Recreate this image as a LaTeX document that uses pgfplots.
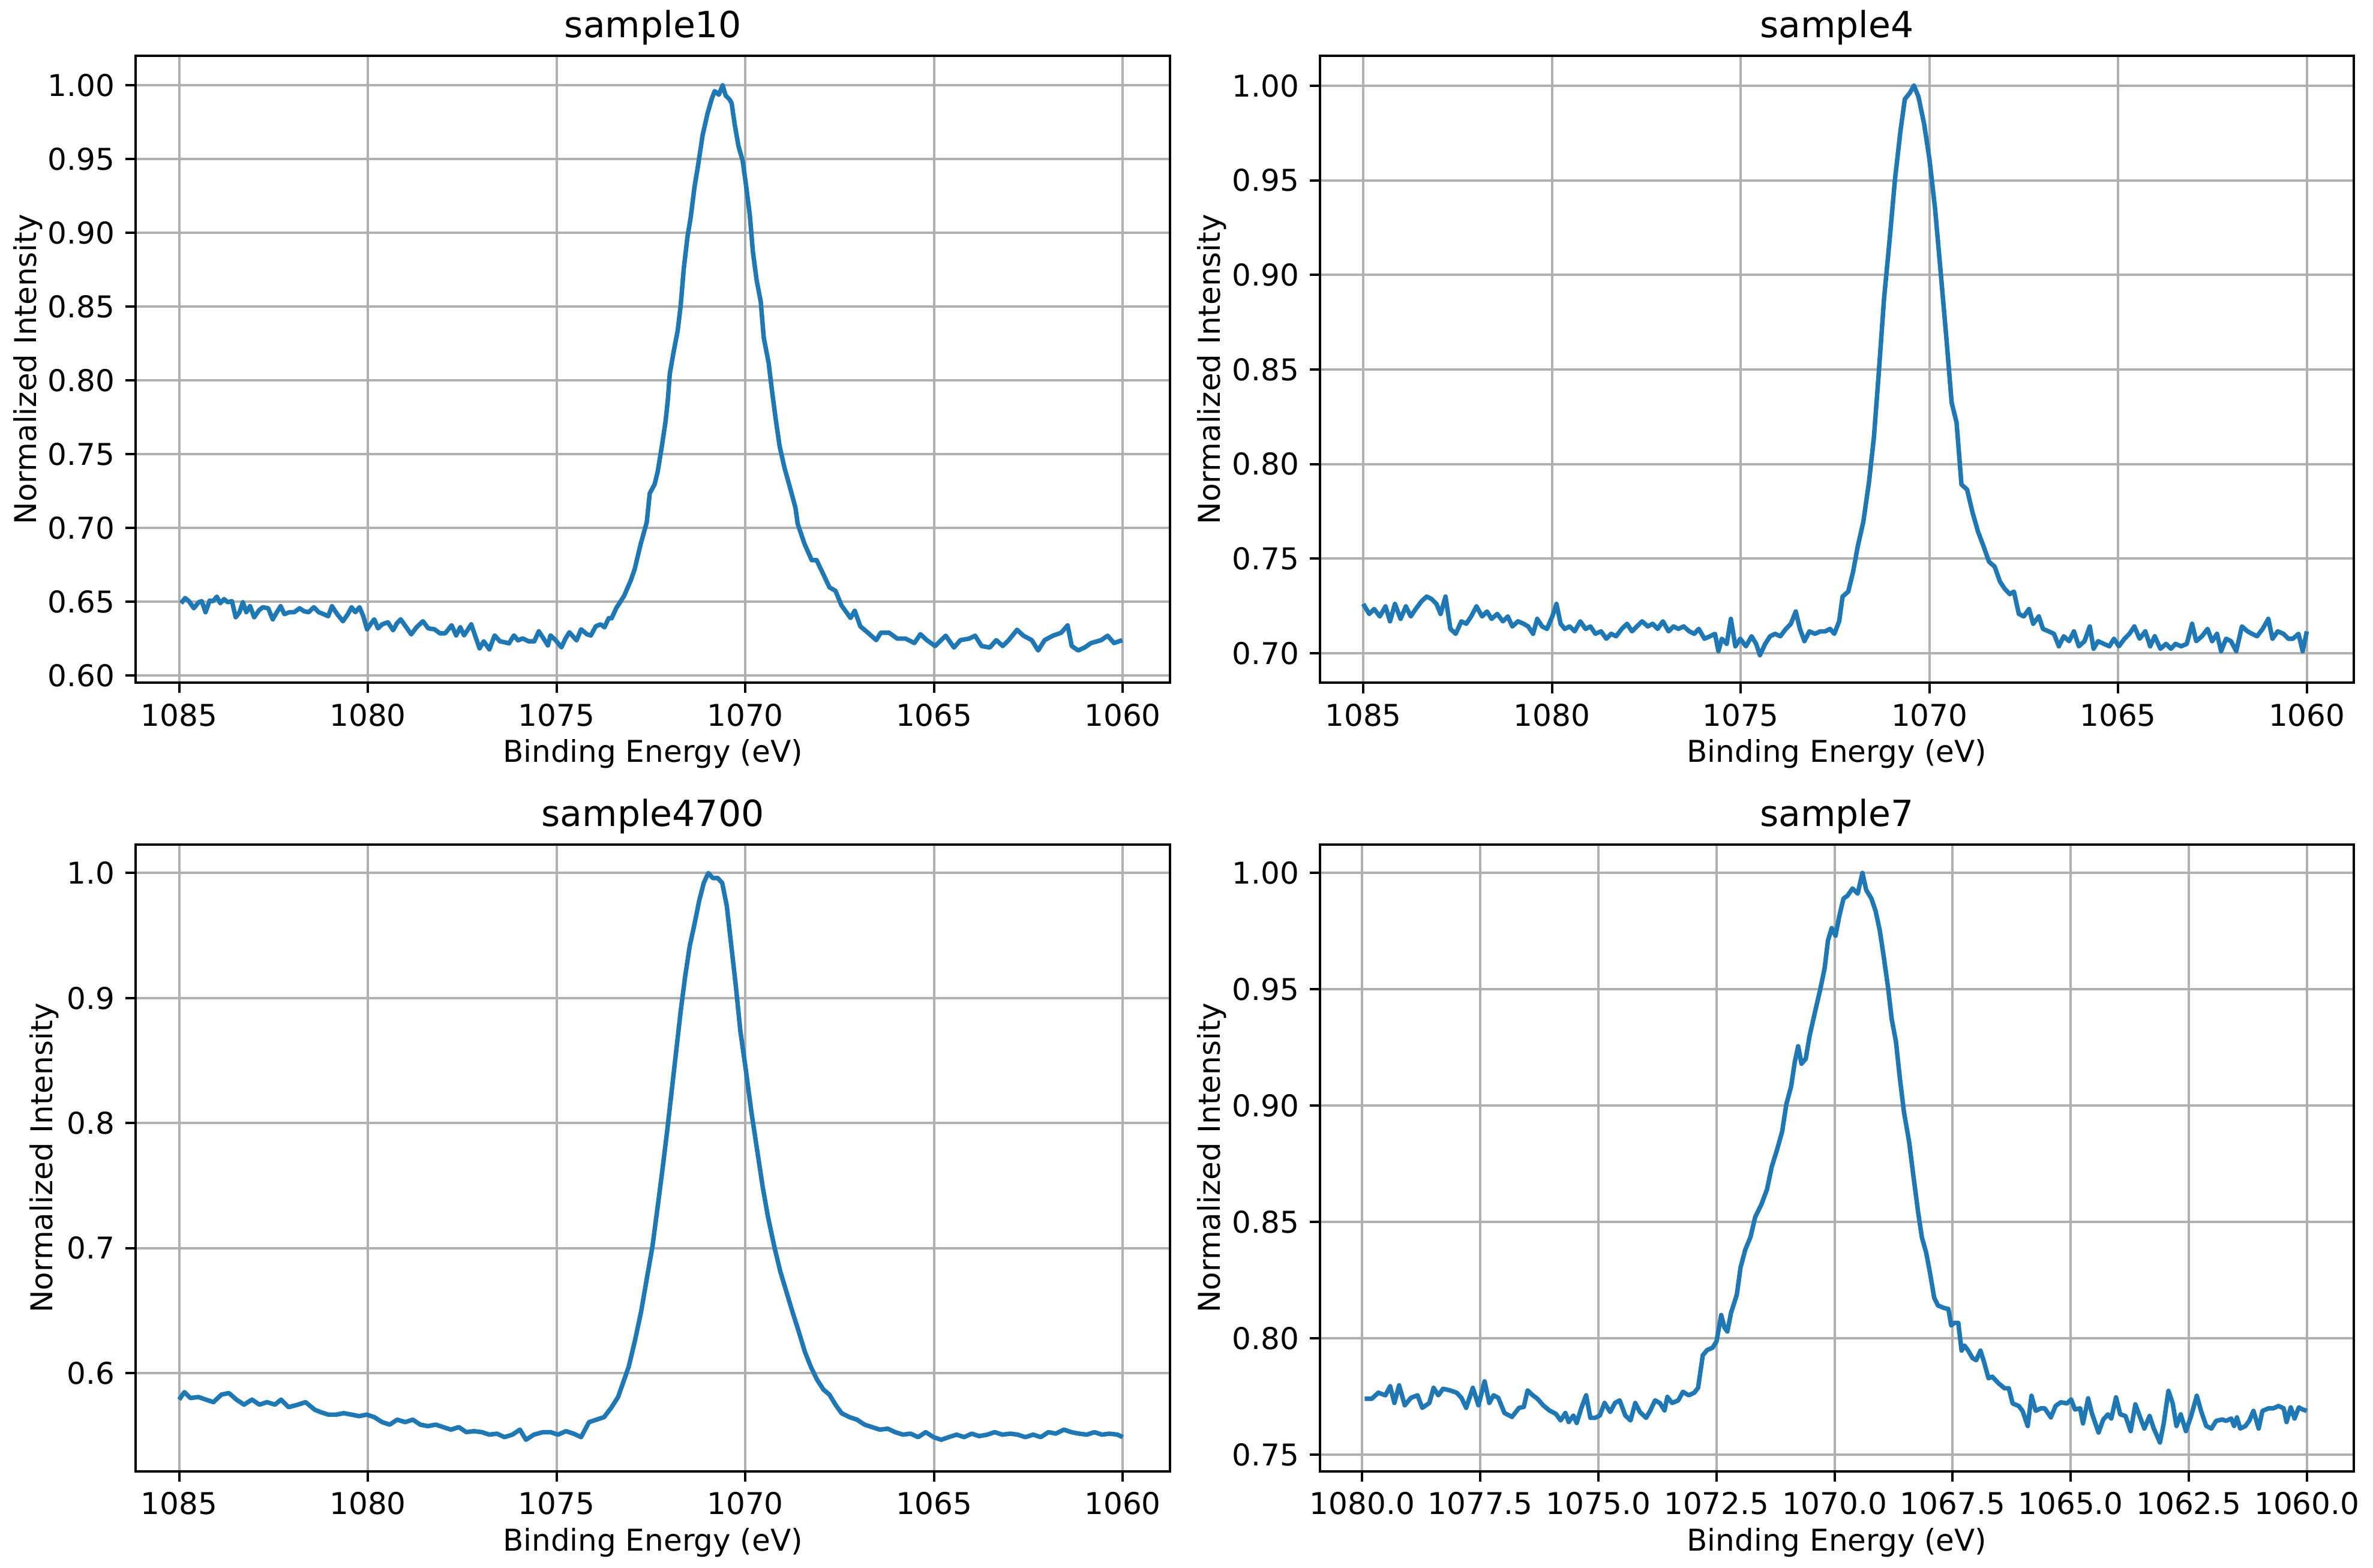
\documentclass[border=0pt]{standalone}
\usepackage{fontspec}
\setmainfont{DejaVu Sans}
\usepackage{pgfplots}
\pgfplotsset{compat=1.18}
\definecolor{mplblue}{HTML}{1F77B4}
\definecolor{gridgray}{HTML}{B0B0B0}
\pgfplotsset{
  mpl/.style={
    width=344.6pt, height=209pt, scale only axis,
    anchor=south west,
    x dir=reverse,
    axis line style={line width=0.8pt, black},
    grid=major, grid style={color=gridgray, line width=0.8pt},
    tick align=outside, tick pos=left,
    major tick length=3.5pt,
    every tick/.style={black, line width=0.8pt},
    minor tick num=0,
    /pgf/number format/assume math mode=true,
    /pgf/number format/1000 sep={},
    scaled ticks=false,
    ticklabel style={font=\fontsize{10}{12}\selectfont},
    label style={font=\fontsize{10}{12}\selectfont},
    every axis title/.style={at={(0.5,1)}, anchor=base, yshift=6pt, font=\fontsize{12}{14}\selectfont},
    xlabel={Binding Energy (eV)}, ylabel={Normalized Intensity},
    xlabel style={at={(axis description cs:0.5,-0.114)}, anchor=center},
    ylabel style={at={(axis description cs:-0.1045,0.5)}, anchor=center},
    cycle list={{mplblue, line width=1.5pt, mark=none, line join=round}},
  },
  curve/.style={mplblue, line width=1.5pt, mark=none, line join=round},
  xint/.style={xmin=1058.755, xmax=1086.145, xtick={1060,1065,1070,1075,1080,1085},
    xticklabel style={/pgf/number format/fixed, /pgf/number format/precision=0}},
  ytwo/.style={yticklabel style={/pgf/number format/fixed, /pgf/number format/fixed zerofill, /pgf/number format/precision=2}},
}
\begin{document}
\begin{tikzpicture}
\useasboundingbox (0,0) rectangle (791pt,522.6pt);
% ---------------- sample10 ----------------
\begin{axis}[mpl, xint, ytwo, at={(45.3pt,295pt)}, title={sample10},
  ymin=0.5952, ymax=1.0200, ytick={0.60,0.65,0.70,0.75,0.80,0.85,0.90,0.95,1.00}]
\addplot[curve] coordinates {
(1084.95,0.6490)(1084.84,0.6525)(1084.74,0.6504)(1084.61,0.6456)(1084.48,0.6497)(1084.40,0.6504)
(1084.30,0.6429)(1084.19,0.6508)(1084.10,0.6504)(1084.00,0.6535)(1083.91,0.6490)(1083.81,0.6518)
(1083.71,0.6497)(1083.60,0.6504)(1083.50,0.6395)(1083.40,0.6429)(1083.31,0.6497)(1083.22,0.6429)
(1083.12,0.6470)(1083.01,0.6395)(1082.88,0.6443)(1082.78,0.6463)(1082.64,0.6456)(1082.52,0.6381)
(1082.41,0.6429)(1082.31,0.6470)(1082.21,0.6416)(1082.08,0.6429)(1081.95,0.6429)(1081.81,0.6456)
(1081.69,0.6436)(1081.57,0.6429)(1081.43,0.6463)(1081.30,0.6429)(1081.17,0.6416)(1081.05,0.6402)
(1080.95,0.6470)(1080.81,0.6416)(1080.66,0.6368)(1080.53,0.6416)(1080.43,0.6463)(1080.33,0.6429)
(1080.22,0.6463)(1080.12,0.6402)(1080.02,0.6313)(1079.93,0.6347)(1079.83,0.6381)(1079.73,0.6320)
(1079.62,0.6347)(1079.47,0.6361)(1079.33,0.6307)(1079.23,0.6354)(1079.13,0.6381)(1079.00,0.6334)
(1078.85,0.6279)(1078.71,0.6327)(1078.54,0.6368)(1078.40,0.6320)(1078.23,0.6313)(1078.09,0.6286)
(1077.95,0.6286)(1077.78,0.6341)(1077.66,0.6272)(1077.55,0.6327)(1077.45,0.6272)(1077.26,0.6347)
(1077.16,0.6272)(1077.04,0.6184)(1076.93,0.6232)(1076.78,0.6177)(1076.64,0.6272)(1076.50,0.6232)
(1076.37,0.6225)(1076.26,0.6218)(1076.13,0.6272)(1076.02,0.6238)(1075.90,0.6252)(1075.74,0.6232)
(1075.59,0.6232)(1075.47,0.6300)(1075.33,0.6245)(1075.23,0.6204)(1075.16,0.6272)(1075.02,0.6238)
(1074.87,0.6191)(1074.76,0.6252)(1074.66,0.6293)(1074.47,0.6238)(1074.35,0.6313)(1074.19,0.6279)
(1074.09,0.6272)(1073.96,0.6334)(1073.83,0.6347)(1073.73,0.6327)(1073.62,0.6388)(1073.54,0.6388)
(1073.42,0.6456)(1073.21,0.6540)(1073.03,0.6647)(1072.93,0.6721)(1072.77,0.6892)(1072.61,0.7039)
(1072.53,0.7235)(1072.40,0.7297)(1072.32,0.7382)(1072.21,0.7554)(1072.11,0.7725)(1072.05,0.7873)
(1072.00,0.8044)(1071.90,0.8191)(1071.79,0.8338)(1071.71,0.8510)(1071.63,0.8755)(1071.53,0.8975)
(1071.45,0.9098)(1071.34,0.9319)(1071.26,0.9441)(1071.13,0.9662)(1071.00,0.9809)(1070.89,0.9907)
(1070.81,0.9961)(1070.70,0.9936)(1070.60,1.0000)(1070.52,0.9931)(1070.41,0.9902)(1070.36,0.9877)
(1070.28,0.9735)(1070.18,0.9588)(1070.07,0.9490)(1069.99,0.9343)(1069.88,0.9123)(1069.80,0.8877)
(1069.70,0.8681)(1069.59,0.8534)(1069.51,0.8289)(1069.38,0.8118)(1069.30,0.7946)(1069.20,0.7750)
(1069.09,0.7554)(1068.96,0.7407)(1068.80,0.7260)(1068.67,0.7137)(1068.61,0.7027)(1068.43,0.6892)
(1068.24,0.6782)(1068.11,0.6782)(1067.95,0.6696)(1067.77,0.6598)(1067.61,0.6574)(1067.45,0.6475)
(1067.21,0.6390)(1067.10,0.6439)(1066.95,0.6333)
(1066.75,0.629)(1066.53,0.624)(1066.41,0.629)(1066.19,0.629)(1065.97,0.625)
(1065.75,0.625)(1065.52,0.622)(1065.36,0.628)(1065.19,0.624)(1064.97,0.620)(1064.69,0.627)
(1064.47,0.619)(1064.30,0.624)(1064.07,0.625)(1063.91,0.627)(1063.74,0.620)(1063.52,0.619)
(1063.35,0.624)(1063.18,0.620)(1063.02,0.624)(1062.80,0.631)(1062.63,0.627)(1062.41,0.624)
(1062.24,0.617)(1062.07,0.624)(1061.85,0.627)(1061.63,0.629)(1061.46,0.634)(1061.35,0.620)
(1061.18,0.617)(1061.01,0.619)(1060.84,0.622)(1060.57,0.624)(1060.40,0.627)(1060.23,0.622)
(1060.01,0.624)
};
\end{axis}
% ---------------- sample4 ----------------
\begin{axis}[mpl, xint, ytwo, at={(440.0pt,295pt)}, title={sample4},
  ymin=0.6845, ymax=1.0158, ytick={0.70,0.75,0.80,0.85,0.90,0.95,1.00}]
\addplot[curve] coordinates {
(1085.00,0.7261)(1084.84,0.7208)(1084.71,0.7234)(1084.56,0.7195)(1084.41,0.7248)(1084.29,0.7169)
(1084.16,0.7261)(1084.01,0.7182)(1083.87,0.7248)(1083.74,0.7195)(1083.61,0.7234)(1083.46,0.7274)
(1083.32,0.7300)(1083.19,0.7287)(1083.06,0.7261)(1082.95,0.7208)(1082.82,0.7300)(1082.69,0.7129)
(1082.55,0.7103)(1082.40,0.7169)(1082.27,0.7156)(1082.14,0.7195)(1082.00,0.7248)(1081.85,0.7195)
(1081.72,0.7221)(1081.60,0.7182)(1081.45,0.7208)(1081.30,0.7169)(1081.17,0.7195)(1081.05,0.7142)
(1080.90,0.7169)(1080.75,0.7156)(1080.63,0.7142)(1080.50,0.7103)(1080.39,0.7182)(1080.26,0.7142)
(1080.13,0.7129)(1079.99,0.7195)(1079.88,0.7261)(1079.77,0.7156)(1079.66,0.7129)(1079.53,0.7142)
(1079.40,0.7116)(1079.25,0.7169)(1079.11,0.7129)(1078.98,0.7142)(1078.85,0.7103)(1078.70,0.7116)
(1078.56,0.7077)(1078.43,0.7103)(1078.30,0.7090)(1078.15,0.7129)(1078.01,0.7156)(1077.88,0.7116)
(1077.75,0.7142)(1077.61,0.7169)(1077.46,0.7142)(1077.33,0.7156)(1077.20,0.7129)(1077.06,0.7169)
(1076.91,0.7116)(1076.78,0.7142)(1076.65,0.7129)(1076.51,0.7142)(1076.36,0.7116)(1076.23,0.7103)
(1076.11,0.7129)(1075.96,0.7077)(1075.81,0.7090)(1075.68,0.7103)(1075.59,0.7011)(1075.50,0.7077)
(1075.37,0.7050)(1075.26,0.7182)(1075.14,0.7037)(1075.01,0.7077)(1074.86,0.7037)(1074.71,0.7090)
(1074.59,0.7050)(1074.49,0.6990)(1074.35,0.7050)(1074.22,0.7090)(1074.09,0.7103)(1073.95,0.7090)
(1073.80,0.7129)(1073.67,0.7156)(1073.54,0.7221)(1073.43,0.7129)(1073.31,0.7064)(1073.18,0.7116)
(1073.03,0.7103)(1072.89,0.7116)(1072.76,0.7116)(1072.63,0.7129)(1072.52,0.7103)(1072.39,0.7169)
(1072.30,0.7300)(1072.15,0.7326)(1072.02,0.7432)(1071.90,0.7563)(1071.75,0.7695)(1071.60,0.7905)
(1071.47,0.8141)(1071.35,0.8457)(1071.20,0.8877)(1071.05,0.9193)(1070.91,0.9508)(1070.76,0.9771)
(1070.65,0.9929)(1070.52,0.9961)(1070.41,1.0000)(1070.29,0.9942)(1070.14,0.9798)(1070.00,0.9614)
(1069.85,0.9351)(1069.71,0.9035)(1069.55,0.8667)(1069.41,0.8325)(1069.28,0.8220)(1069.15,0.7892)
(1069.00,0.7865)(1068.86,0.7747)(1068.71,0.7642)(1068.56,0.7563)(1068.42,0.7484)(1068.27,0.7458)
(1068.13,0.7379)(1068.00,0.7340)(1067.87,0.7313)(1067.76,0.7326)(1067.63,0.7208)(1067.50,0.7195)
(1067.36,0.7234)(1067.25,0.7156)(1067.10,0.7195)(1066.99,0.7129)(1066.84,0.7116)(1066.70,0.7103)
(1066.57,0.7037)(1066.44,0.7090)(1066.30,0.7064)(1066.17,0.7116)(1066.04,0.7037)(1065.89,0.7064)
(1065.75,0.7142)(1065.65,0.7024)(1065.53,0.7064)(1065.38,0.7050)(1065.23,0.7037)(1065.11,0.7077)
(1064.98,0.7037)(1064.83,0.7077)(1064.70,0.7103)(1064.57,0.7142)(1064.43,0.7077)(1064.28,0.7116)
(1064.15,0.7037)(1064.03,0.7090)(1063.88,0.7024)(1063.73,0.7050)(1063.60,0.7024)(1063.48,0.7050)
(1063.33,0.7037)(1063.18,0.7050)(1063.04,0.7156)(1062.93,0.7064)(1062.78,0.7090)(1062.63,0.7129)
(1062.51,0.7064)(1062.38,0.7103)(1062.27,0.7011)(1062.14,0.7077)(1062.01,0.7064)(1061.87,0.7011)
(1061.72,0.7142)(1061.57,0.7116)(1061.45,0.7103)(1061.32,0.7090)(1061.17,0.7129)(1061.02,0.7182)
(1060.91,0.7077)(1060.77,0.7116)(1060.62,0.7103)(1060.49,0.7077)(1060.37,0.7077)(1060.22,0.7103)
(1060.11,0.7011)(1060.00,0.7116)
};
\end{axis}
% ---------------- sample4700 ----------------
\begin{axis}[mpl, xint, at={(45.3pt,32.1pt)}, title={sample4700},
  ymin=0.5215, ymax=1.0230, ytick={0.6,0.7,0.8,0.9,1.0},
  yticklabel style={/pgf/number format/fixed, /pgf/number format/fixed zerofill, /pgf/number format/precision=1},
  ylabel style={at={(axis description cs:-0.0888,0.5)}, anchor=center}]
\addplot[curve] coordinates {
(1085.00,0.5787)(1084.86,0.5847)(1084.70,0.5800)(1084.49,0.5808)(1084.29,0.5787)(1084.09,0.5767)
(1083.88,0.5827)(1083.68,0.5840)(1083.48,0.5787)(1083.28,0.5747)(1083.07,0.5787)(1082.87,0.5747)
(1082.67,0.5767)(1082.46,0.5747)(1082.30,0.5787)(1082.10,0.5727)(1081.85,0.5747)(1081.65,0.5767)
(1081.41,0.5707)(1081.25,0.5687)(1081.04,0.5667)(1080.84,0.5667)(1080.64,0.5679)(1080.43,0.5667)
(1080.23,0.5655)(1080.03,0.5667)(1079.83,0.5647)(1079.62,0.5607)(1079.42,0.5587)(1079.22,0.5627)
(1079.01,0.5607)(1078.81,0.5627)(1078.61,0.5587)(1078.41,0.5575)(1078.20,0.5587)(1078.00,0.5567)
(1077.80,0.5547)(1077.59,0.5567)(1077.39,0.5527)(1077.19,0.5535)(1076.98,0.5527)(1076.78,0.5507)
(1076.58,0.5515)(1076.38,0.5487)(1076.17,0.5507)(1075.97,0.5547)(1075.81,0.5466)(1075.60,0.5507)
(1075.36,0.5527)(1075.16,0.5527)(1074.96,0.5507)(1074.75,0.5535)(1074.55,0.5515)(1074.35,0.5487)
(1074.14,0.5607)(1073.94,0.5627)(1073.74,0.5647)(1073.54,0.5727)(1073.37,0.5808)(1073.23,0.5928)
(1073.09,0.6048)(1072.93,0.6249)(1072.76,0.6490)(1072.60,0.6770)(1072.46,0.7011)(1072.32,0.7332)
(1072.20,0.7613)(1072.07,0.7934)(1071.95,0.8255)(1071.83,0.8576)(1071.71,0.8897)(1071.59,0.9178)
(1071.47,0.9418)(1071.34,0.9599)(1071.22,0.9779)(1071.10,0.9920)(1070.98,1.0000)(1070.86,0.9960)
(1070.73,0.9960)(1070.61,0.9920)(1070.49,0.9739)(1070.37,0.9418)(1070.25,0.9097)(1070.13,0.8736)
(1069.98,0.8415)(1069.84,0.8094)(1069.68,0.7773)(1069.54,0.7493)(1069.40,0.7252)(1069.23,0.7011)
(1069.07,0.6810)(1068.91,0.6650)(1068.75,0.6490)(1068.58,0.6329)(1068.42,0.6169)(1068.26,0.6048)
(1068.10,0.5948)(1067.93,0.5868)(1067.77,0.5827)(1067.61,0.5747)(1067.45,0.5679)(1067.24,0.5647)
(1067.04,0.5627)(1066.84,0.5587)(1066.64,0.5567)(1066.43,0.5547)(1066.23,0.5555)(1066.03,0.5527)
(1065.82,0.5507)(1065.62,0.5515)(1065.42,0.5487)(1065.22,0.5527)(1065.01,0.5487)(1064.81,0.5466)
(1064.61,0.5487)(1064.40,0.5507)(1064.20,0.5487)(1064.00,0.5515)(1063.80,0.5495)(1063.59,0.5507)
(1063.39,0.5527)(1063.19,0.5507)(1062.98,0.5515)(1062.78,0.5507)(1062.58,0.5487)(1062.37,0.5507)
(1062.17,0.5487)(1061.97,0.5527)(1061.77,0.5515)(1061.56,0.5547)(1061.36,0.5527)(1061.16,0.5515)
(1060.95,0.5507)(1060.75,0.5527)(1060.55,0.5507)(1060.35,0.5515)(1060.14,0.5507)(1060.00,0.5487)
};
\end{axis}
% ---------------- sample7 ----------------
\begin{axis}[mpl, ytwo, at={(440.0pt,32.1pt)}, title={sample7},
  xmin=1059.005, xmax=1080.895, xtick={1060,1062.5,1065,1067.5,1070,1072.5,1075,1077.5,1080},
  xticklabel style={/pgf/number format/fixed, /pgf/number format/fixed zerofill, /pgf/number format/precision=1},
  ymin=0.7429, ymax=1.0123, ytick={0.75,0.80,0.85,0.90,0.95,1.00}]
\addplot[curve] coordinates {
(1079.95,0.7740)(1079.80,0.7740)(1079.66,0.7766)(1079.51,0.7755)(1079.41,0.7794)(1079.32,0.7722)
(1079.22,0.7798)(1079.10,0.7712)(1078.97,0.7744)(1078.83,0.7755)(1078.73,0.7701)(1078.58,0.7722)
(1078.49,0.7787)(1078.39,0.7755)(1078.29,0.7783)(1078.14,0.7776)(1078.00,0.7766)(1077.90,0.7744)
(1077.80,0.7701)(1077.66,0.7787)(1077.54,0.7712)(1077.41,0.7815)(1077.31,0.7722)(1077.22,0.7755)
(1077.12,0.7744)(1076.99,0.7679)(1076.83,0.7662)(1076.68,0.7701)(1076.58,0.7705)(1076.50,0.7776)
(1076.39,0.7755)(1076.29,0.7740)(1076.17,0.7712)(1076.04,0.7690)(1075.90,0.7675)(1075.80,0.7647)
(1075.70,0.7679)(1075.63,0.7640)(1075.53,0.7668)(1075.46,0.7636)(1075.36,0.7701)(1075.26,0.7755)
(1075.17,0.7658)(1075.07,0.7658)(1074.97,0.7668)(1074.87,0.7722)(1074.75,0.7683)(1074.65,0.7722)
(1074.55,0.7733)(1074.43,0.7668)(1074.32,0.7647)(1074.22,0.7722)(1074.12,0.7683)(1073.99,0.7658)
(1073.90,0.7690)(1073.80,0.7733)(1073.70,0.7722)(1073.60,0.7690)(1073.54,0.7748)(1073.44,0.7722)
(1073.31,0.7733)(1073.21,0.7770)(1073.09,0.7755)(1072.97,0.7766)(1072.89,0.7787)(1072.79,0.7927)
(1072.70,0.7949)(1072.58,0.7960)(1072.50,0.7986)(1072.40,0.8100)(1072.33,0.8046)(1072.27,0.8029)
(1072.19,0.8111)(1072.07,0.8187)(1071.99,0.8305)(1071.89,0.8381)(1071.78,0.8435)(1071.68,0.8521)
(1071.55,0.8575)(1071.43,0.8640)(1071.33,0.8737)(1071.23,0.8802)(1071.11,0.8888)(1071.02,0.9007)
(1070.92,0.9082)(1070.84,0.9190)(1070.77,0.9255)(1070.70,0.9180)(1070.61,0.9201)(1070.53,0.9298)
(1070.41,0.9406)(1070.31,0.9493)(1070.21,0.9590)(1070.14,0.9709)(1070.06,0.9763)(1069.98,0.9730)
(1069.90,0.9814)(1069.81,0.9890)(1069.73,0.9901)(1069.62,0.9933)(1069.51,0.9911)(1069.41,1.0000)
(1069.33,0.9927)(1069.22,0.9890)(1069.13,0.9836)(1069.04,0.9750)(1068.96,0.9642)(1068.87,0.9512)
(1068.79,0.9372)(1068.70,0.9275)(1068.62,0.9123)(1068.53,0.8972)(1068.42,0.8843)(1068.34,0.8713)
(1068.23,0.8541)(1068.15,0.8433)(1068.06,0.8368)(1067.98,0.8282)(1067.89,0.8174)(1067.81,0.8141)
(1067.68,0.8130)(1067.59,0.8126)(1067.53,0.8055)(1067.47,0.8066)(1067.38,0.8066)(1067.31,0.7947)
(1067.25,0.7969)(1067.17,0.7947)(1067.08,0.7915)(1067.00,0.7906)(1066.91,0.7947)(1066.83,0.7895)
(1066.74,0.7828)(1066.66,0.7835)(1066.53,0.7807)(1066.40,0.7785)(1066.31,0.7785)(1066.23,0.7720)
(1066.10,0.7709)(1066.02,0.7688)(1065.91,0.7623)(1065.83,0.7753)(1065.74,0.7688)(1065.63,0.7699)
(1065.55,0.7699)(1065.42,0.7660)(1065.32,0.7709)(1065.21,0.7725)(1065.08,0.7720)(1064.99,0.7737)
(1064.91,0.7694)(1064.80,0.7699)(1064.74,0.7634)(1064.63,0.7742)(1064.55,0.7677)(1064.41,0.7595)
(1064.31,0.7651)(1064.21,0.7673)(1064.14,0.7655)(1064.04,0.7746)(1063.95,0.7673)(1063.84,0.7666)
(1063.73,0.7601)(1063.63,0.7716)(1063.52,0.7655)(1063.44,0.7612)(1063.33,0.7666)(1063.24,0.7612)
(1063.11,0.7552)(1063.03,0.7634)(1062.93,0.7774)(1062.84,0.7720)(1062.76,0.7623)(1062.67,0.7673)
(1062.56,0.7601)(1062.45,0.7666)(1062.33,0.7753)(1062.24,0.7688)(1062.13,0.7623)(1062.02,0.7612)
(1061.92,0.7645)(1061.79,0.7651)(1061.71,0.7645)(1061.60,0.7655)(1061.54,0.7623)(1061.48,0.7660)
(1061.41,0.7612)(1061.30,0.7623)(1061.22,0.7645)(1061.13,0.7688)(1061.02,0.7612)(1060.94,0.7688)
(1060.81,0.7699)(1060.71,0.7699)(1060.60,0.7709)(1060.49,0.7699)(1060.43,0.7640)(1060.34,0.7703)
(1060.26,0.7655)(1060.17,0.7703)(1060.09,0.7694)(1060.00,0.7688)
};
\end{axis}
\end{tikzpicture}
\end{document}
